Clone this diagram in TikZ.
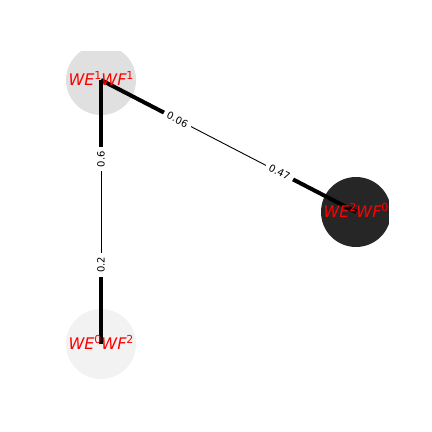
\documentclass[tikz,border=0pt]{standalone}
\usepackage{fontspec}
\setmainfont{DejaVu Sans}
\newcommand{\wsup}[1]{\raisebox{.42em}{\fontsize{11}{11}\selectfont\upshape #1}}
\begin{document}
\begin{tikzpicture}
[x=1pt,y=1pt,every node/.style={circle, inner sep=0pt, minimum size=70pt},
 heavy/.style={line width=4pt},
 light/.style={line width=.9pt},
 wlabel/.style={rectangle, minimum size=0pt, fill=white, inner xsep=4pt, inner ysep=1pt, sloped, font=\fontsize{10}{10}\selectfont},
 vlabel/.style={rectangle, minimum size=0pt, anchor=base, text=red, font=\fontsize{16}{16}\selectfont\itshape}]
\useasboundingbox (0,0) rectangle (432,432);
\begin{scope}
\clip (54,47.5) rectangle (388.8,380.2);
\node[fill=black!12] (1) at (101,352) {};
\node[fill=black!85] (2) at (356,220) {};
\node[fill=black!5] (3) at (101,88) {};
\end{scope}
\path (1.center) -- (2.center) coordinate[pos=.3] (12a) coordinate[pos=.7] (12b);
\path (1.center) -- (3.center) coordinate[pos=.3] (13a) coordinate[pos=.7] (13b);
\draw[heavy] (1.center) -- (12a);
\draw[heavy] (12b) -- (2.center);
\draw[heavy] (1.center) -- (13a);
\draw[heavy] (13b) -- (3.center);
\draw[light] (12a) -- (12b) node[wlabel,pos=0] {0.06} node[wlabel,pos=1] {0.47};
\draw[light] (13b) -- (13a) node[wlabel,pos=0] {0.2} node[wlabel,pos=1] {0.6};
\node[vlabel] at ([yshift=-6pt]1.center) {WE\wsup{1}WF\wsup{1}};
\node[vlabel] at ([yshift=-6pt]2.center) {WE\wsup{2}WF\wsup{0}};
\node[vlabel] at ([yshift=-6pt]3.center) {WE\wsup{0}WF\wsup{2}};
\end{tikzpicture}
\end{document}
